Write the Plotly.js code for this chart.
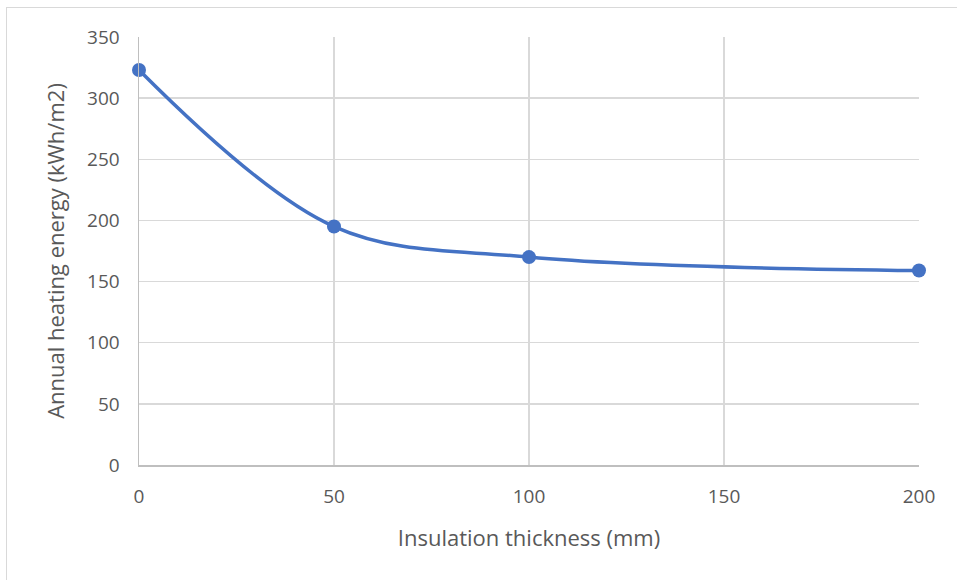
<!DOCTYPE html>
<html><head><meta charset="utf-8">
<script src="https://cdn.plot.ly/plotly-3.0.1.min.js"></script>
<style>
html,body{margin:0;padding:0;background:#fff;overflow:hidden}
#frame{position:absolute;left:6px;top:7px;width:1000px;height:700px;border:1px solid #d9d9d9;box-sizing:border-box}
#chart{position:absolute;left:0;top:0;width:957px;height:580px}
</style></head>
<body>
<div id="frame"></div>
<div id="chart"></div>
<script>
const thickness = [0, 50, 100, 200];
const heatingEnergy = [323, 195, 170, 159];
const xTicks = [0, 50, 100, 150, 200];
const yTicks = [0, 50, 100, 150, 200, 250, 300, 350];

const trace = {
  x: thickness, y: heatingEnergy, type: 'scatter', mode: 'lines+markers',
  line: {color: '#4472C4', width: 3.5, shape: 'spline', smoothing: 1},
  marker: {color: '#4472C4', size: 14},
  hoverinfo: 'skip', cliponaxis: false
};
const font = {family: 'Open Sans, Noto Sans, sans-serif', color: '#595959'};
const layout = {
  width: 957, height: 580,
  margin: {l: 139, r: 38, t: 37, b: 115},
  paper_bgcolor: 'rgba(0,0,0,0)', plot_bgcolor: '#fff',
  showlegend: false,
  xaxis: {
    range: [0, 200], tickvals: xTicks, ticktext: xTicks.map(String),
    showgrid: true, gridcolor: '#d9d9d9', gridwidth: 1.5,
    showline: true, linecolor: '#bfbfbf', linewidth: 1.5, mirror: false,
    zeroline: false, ticks: 'outside', ticklen: 14, tickcolor: 'rgba(0,0,0,0)',
    tickfont: Object.assign({size: 19}, font),
    title: {text: 'Insulation thickness (mm)', font: Object.assign({size: 22}, font), standoff: 22}
  },
  yaxis: {
    range: [0, 350], tickvals: yTicks, ticktext: yTicks.map(String),
    showgrid: true, gridcolor: '#d9d9d9', gridwidth: 1.5,
    showline: true, linecolor: '#bfbfbf', linewidth: 1.5,
    zeroline: false, ticks: 'outside', ticklen: 14, tickcolor: 'rgba(0,0,0,0)',
    tickfont: Object.assign({size: 19}, font),
    title: {text: 'Annual heating energy (kWh/m2)', font: Object.assign({size: 22}, font), standoff: 16}
  }
};
Plotly.newPlot('chart', [trace], layout, {displayModeBar: false, staticPlot: true});
</script>
</body></html>
